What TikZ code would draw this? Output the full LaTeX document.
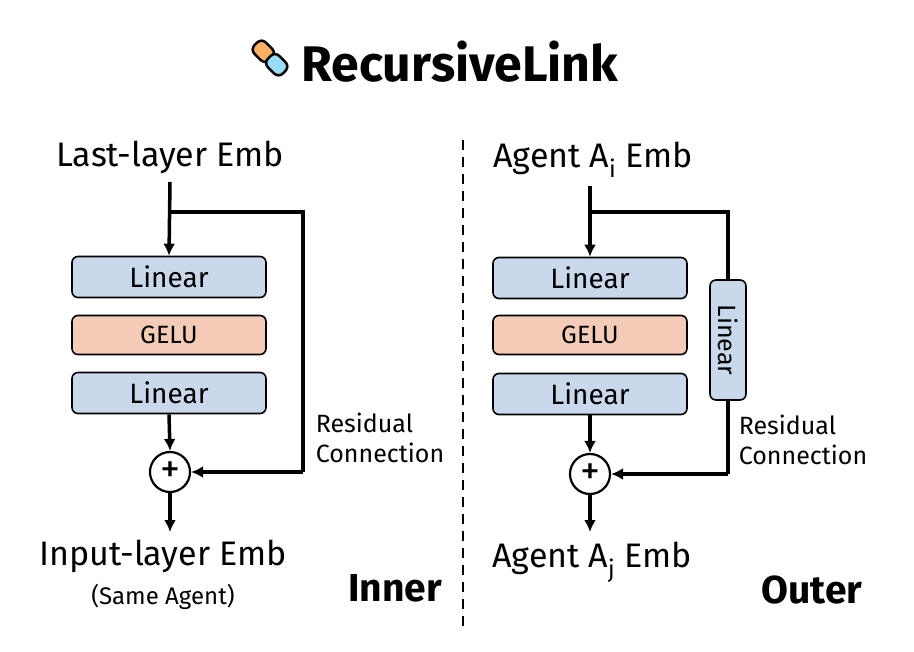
\documentclass[tikz,border=0pt]{standalone}
\usepackage{fontspec}
\setmainfont{Fira Sans}
\usetikzlibrary{arrows.meta,positioning}
\definecolor{lblue}{HTML}{C9D8EA}
\definecolor{lsal}{HTML}{F3CBB6}
\begin{document}
\begin{tikzpicture}[x=1pt,y=-1pt,
  line width=3.5pt,
  arr/.style={-{Latex[length=12pt,width=12pt]}},
  blk/.style={draw,line width=1.6pt,rounded corners=6pt,minimum width=194pt,font=\fontsize{28}{30}\selectfont},
  lin/.style={blk,fill=lblue,minimum height=41pt},
  gelu/.style={blk,fill=lsal,minimum height=39pt,font=\fontsize{25}{28}\selectfont},
  plus/.style={draw,circle,line width=2.2pt,minimum size=40pt,inner sep=0pt,fill=white,font=\fontsize{40}{40}\selectfont},
  lab/.style={font=\fontsize{34}{38}\selectfont},
  res/.style={font=\fontsize{25}{30}\selectfont,align=left},
  big/.style={font=\fontsize{39}{42}\selectfont\bfseries}]
\useasboundingbox (0,0) rectangle (914,652);
% title
\node[font=\fontsize{50}{52}\selectfont\bfseries] (title) at (460,62) {RecursiveLink};
\begin{scope}[shift={(270,58)},rotate=-45,line width=2.5pt]
  \draw[fill=orange!60,rounded corners=6pt] (-20,-8) rectangle (1,8);
  \draw[fill=cyan!40,rounded corners=6pt] (-1,-8) rectangle (20,8);
\end{scope}
% left
\node[lab] (lt) at (170,157) {Last-layer Emb};
\node[lin] (l1) at (169,277) {Linear};
\node[gelu] (l2) at (169,335) {GELU};
\node[lin] (l3) at (169,393) {Linear};
\node[plus] (lp) at (170,472) {+};
\node[lab] (lb) at (163,556) {Input-layer Emb};
\node[font=\fontsize{24}{26}\selectfont] (lb2) at (163,597) {(Same Agent)};
\coordinate (ls) at (170,212);
\coordinate (lc1) at (303,212);
\coordinate (lc2) at (303,472);
\draw[arr] (170,182) -- (l1.north);
\draw (ls) -- (lc1) -- (lc2);
\draw[arr] (lc2) -- (lp.east);
\draw[arr] (l3.south) -- (lp.north);
\draw[arr] (lp.south) -- (170,532);
\node[res] (lr) at (380,438) {Residual\\Connection};
\node[big] (inner) at (395,588) {Inner};
% divider
\coordinate (d1) at (463,140);
\coordinate (d2) at (463,630);
\draw[line width=2.6pt,dash pattern=on 10pt off 7pt] (d1) -- (d2);
% right
\node[lab] (rt) at (593,160) {Agent A\textsubscript{i} Emb};
\node[lin] (r1) at (590,278) {Linear};
\node[gelu] (r2) at (590,335) {GELU};
\node[lin] (r3) at (590,394) {Linear};
\node[plus] (rp) at (590,474) {+};
\node[lab] (rb) at (592,562) {Agent A\textsubscript{j} Emb};
\node[draw,line width=1.6pt,rounded corners=6pt,fill=lblue,minimum width=120pt,minimum height=36pt,rotate=-90,font=\fontsize{25}{28}\selectfont] (rl) at (728,340) {Linear};
\coordinate (rs) at (590,212);
\coordinate (rc1) at (728,212);
\coordinate (rc2) at (728,474);
\draw[arr] (590,186) -- (r1.north);
\draw (rs) -- (rc1) -- (rl.west);
\draw (rl.east) -- (rc2);
\draw[arr] (rc2) -- (rp.east);
\draw[arr] (r3.south) -- (rp.north);
\draw[arr] (rp.south) -- (590,532);
\node[res] (rr) at (803,440) {Residual\\Connection};
\node[big] (outer) at (812,590) {Outer};
\end{tikzpicture}
\end{document}
